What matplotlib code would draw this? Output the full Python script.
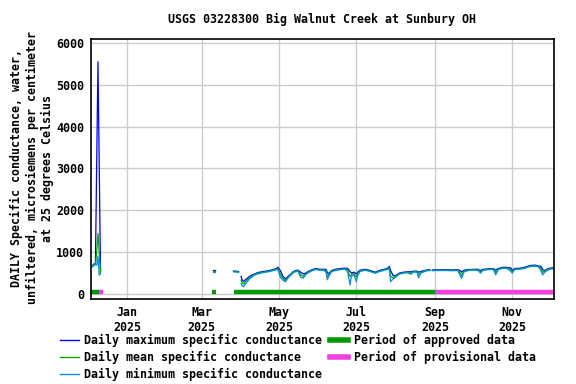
import numpy as np
import pandas as pd
import matplotlib
matplotlib.use("Agg")
import matplotlib.pyplot as plt
import matplotlib.dates as mdates
from matplotlib.lines import Line2D

plt.rcParams["font.family"] = ["DejaVu Sans Mono"]
plt.rcParams["font.weight"] = "bold"
plt.rcParams["font.size"] = 8.35

# データ（日別の比伝導度, uS/cm）
early_dates = ["2024-12-04", "2024-12-05", "2024-12-06", "2024-12-07",
               "2024-12-08", "2024-12-09", "2024-12-10", "2024-12-11"]
early_max = [660, 690, 720, 720, 3150, 5550, 3050, 540]
early_mean = [650, 680, 700, 710, 1000, 1450, 980, 510]
early_min = [640, 660, 690, 700, 690, 900, 450, 480]

lone_dates = ["2025-03-10", "2025-03-11"]
lone_max = [580, 580]
lone_mean = [550, 550]
lone_min = [520, 520]

main_dates = [
    "2025-03-26", "2025-03-28", "2025-03-30", "2025-03-31",
    "2025-04-01", "2025-04-02", "2025-04-03", "2025-04-04", "2025-04-06",
    "2025-04-08", "2025-04-11", "2025-04-14", "2025-04-17", "2025-04-20",
    "2025-04-23", "2025-04-26", "2025-04-29", "2025-04-30", "2025-05-02",
    "2025-05-04", "2025-05-06", "2025-05-08", "2025-05-10", "2025-05-12",
    "2025-05-14", "2025-05-16", "2025-05-18", "2025-05-20", "2025-05-22",
    "2025-05-24", "2025-05-27", "2025-05-30", "2025-06-02", "2025-06-05",
    "2025-06-07", "2025-06-08", "2025-06-09", "2025-06-11", "2025-06-13",
    "2025-06-16", "2025-06-19", "2025-06-22", "2025-06-24", "2025-06-26",
    "2025-06-27", "2025-06-29", "2025-07-01", "2025-07-02", "2025-07-04",
    "2025-07-08", "2025-07-11", "2025-07-13", "2025-07-16", "2025-07-19",
    "2025-07-23", "2025-07-26", "2025-07-27", "2025-07-28", "2025-07-30",
    "2025-08-01", "2025-08-04", "2025-08-07", "2025-08-10", "2025-08-13",
    "2025-08-15", "2025-08-18", "2025-08-19", "2025-08-21", "2025-08-25",
    "2025-08-28", "2025-08-29", "2025-08-30", "2025-09-03", "2025-09-07",
    "2025-09-11", "2025-09-15", "2025-09-19", "2025-09-21", "2025-09-22",
    "2025-09-24", "2025-09-28", "2025-10-02", "2025-10-05", "2025-10-07",
    "2025-10-09", "2025-10-13", "2025-10-17", "2025-10-19", "2025-10-21",
    "2025-10-25", "2025-10-28", "2025-10-31", "2025-11-01", "2025-11-03",
    "2025-11-07", "2025-11-11", "2025-11-15", "2025-11-19", "2025-11-22",
    "2025-11-24", "2025-11-25", "2025-11-27", "2025-11-29", "2025-12-01",
    "2025-12-03",
]
main_max = [
    550, 545, 535, None,
    420, 320, 300, 330, 380,
    430, 470, 510, 530, 545,
    560, 580, 610, 640, 560,
    420, 360, 420, 470, 530,
    560, 570, 520, 480, 500,
    540, 580, 610, 590, 590,
    590, 520, 480, 550, 580,
    600, 610, 620, 610, 540,
    500, 520, 480, 520, 570,
    590, 570, 550, 520, 560,
    590, 620, 660, 560, 440,
    440, 500, 520, 530, 530,
    545, 545, 520, 540, 570,
    580, None, 575, 580, 580,
    580, 575, 580, 560, 520,
    570, 585, 590, 590, 560,
    590, 600, 610, 570, 610,
    640, 635, 620, 560, 610,
    615, 640, 680, 690, 670,
    650, 580, 560, 600, 620,
    625,
]
main_mean = [
    540, 535, 525, None,
    330, 260, 240, 280, 340,
    400, 455, 495, 515, 530,
    545, 565, 595, 610, 470,
    370, 320, 400, 455, 515,
    545, 555, 460, 420, 480,
    525, 565, 595, 575, 575,
    560, 410, 440, 535, 565,
    585, 595, 605, 580, 420,
    460, 490, 400, 480, 555,
    575, 555, 535, 505, 545,
    575, 600, 620, 420, 390,
    420, 490, 505, 520, 500,
    535, 530, 450, 520, 560,
    570, None, 565, 570, 570,
    570, 565, 570, 500, 430,
    550, 575, 580, 575, 530,
    575, 590, 600, 520, 595,
    625, 620, 580, 530, 595,
    600, 625, 665, 675, 655,
    600, 520, 545, 580, 605,
    610,
]
main_min = [
    530, 525, 515, None,
    250, 190, 175, 220, 300,
    370, 440, 480, 500, 520,
    535, 555, 580, 590, 400,
    330, 290, 380, 440, 500,
    535, 540, 400, 380, 460,
    510, 555, 585, 565, 565,
    530, 340, 400, 520, 550,
    570, 585, 595, 540, 215,
    420, 460, 295, 440, 540,
    565, 545, 525, 495, 535,
    565, 590, 600, 295, 360,
    400, 475, 495, 510, 470,
    525, 520, 385, 500, 550,
    560, None, 555, 560, 560,
    560, 555, 560, 440, 375,
    530, 565, 570, 560, 500,
    565, 580, 590, 455, 585,
    615, 610, 540, 500, 585,
    590, 615, 655, 665, 645,
    540, 455, 530, 570, 595,
    600,
]

# データ品質の期間
approved_periods = [("2024-12-03", "2024-12-10"), ("2025-03-09", "2025-03-12"),
                    ("2025-03-26", "2025-09-01")]
provisional_periods = [("2024-12-10", "2024-12-13"), ("2025-09-01", "2025-12-05")]

c_max = "#0000ff"
c_mean = "#00a800"
c_min = "#0090e0"
c_appr = "#009900"
c_prov = "#f040e0"

fig = plt.figure(figsize=(5.76, 3.84), dpi=100)
ax = fig.add_axes([91 / 576, 1 - 299 / 384, (554 - 91) / 576, (299 - 39) / 384])


def series(dates, vals):
    return pd.to_datetime(dates), np.array([np.nan if v is None else v for v in vals], dtype=float)


for d, mx, mn_, lo in [(early_dates, early_max, early_mean, early_min),
                       (lone_dates, lone_max, lone_mean, lone_min),
                       (main_dates, main_max, main_mean, main_min)]:
    t, v = series(d, mx)
    ax.plot(t, v, color=c_max, lw=0.9)
    t, v = series(d, mn_)
    ax.plot(t, v, color=c_mean, lw=0.9)
    t, v = series(d, lo)
    ax.plot(t, v, color=c_min, lw=0.9)

for s, e in approved_periods:
    ax.hlines(50, pd.Timestamp(s), pd.Timestamp(e), color=c_appr, lw=3.2, clip_on=False)
for s, e in provisional_periods:
    ax.hlines(50, pd.Timestamp(s), pd.Timestamp(e), color=c_prov, lw=3.2)

ax.set_xlim(pd.Timestamp("2024-12-03 12:00"), pd.Timestamp("2025-12-04"))
ax.set_ylim(-120, 6096)
ax.set_yticks(range(0, 6001, 1000))
ax.xaxis.set_major_locator(mdates.MonthLocator(bymonth=[1, 3, 5, 7, 9, 11]))
ax.xaxis.set_major_formatter(mdates.DateFormatter("%b\n%Y"))
ax.tick_params(length=0, pad=5)
ax.grid(True, color="#cccccc", lw=1)
ax.set_axisbelow(True)
for sp in ax.spines.values():
    sp.set_linewidth(1.2)

fig.text(322 / 576, 1 - 19 / 384, "USGS 03228300 Big Walnut Creek at Sunbury OH",
         ha="center", va="center")
fig.text(32 / 576, 1 - 168 / 384,
         "DAILY Specific conductance, water,\nunfiltered, microsiemens per centimeter\nat 25 degrees Celsius",
         ha="center", va="center", rotation=90, linespacing=1.22)

handles = [
    Line2D([], [], color=c_max, lw=1),
    Line2D([], [], color=c_mean, lw=1),
    Line2D([], [], color=c_min, lw=1),
    Line2D([], [], color=c_appr, lw=4),
    Line2D([], [], color=c_prov, lw=4),
]
labels = ["Daily maximum specific conductance", "Daily mean specific conductance",
          "Daily minimum specific conductance", "Period of approved data",
          "Period of provisional data"]
fig.legend(handles, labels, ncol=2, loc="upper left", bbox_to_anchor=(60 / 576, 1 - 334 / 384),
           frameon=False, borderpad=0, borderaxespad=0, handlelength=1.6,
           handletextpad=0.5, columnspacing=0.65, labelspacing=0.32)

plt.savefig("out.png", dpi=100)
